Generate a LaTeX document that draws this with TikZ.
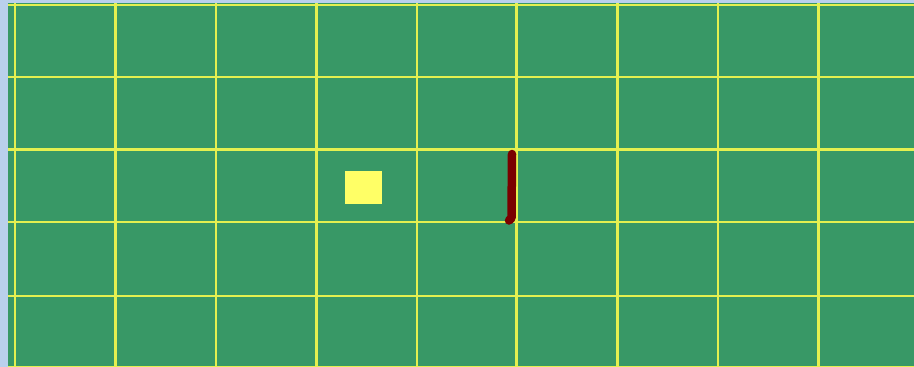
\documentclass[tikz,border=0pt]{standalone}
\definecolor{bgblue}{RGB}{186,208,236}
\definecolor{field}{RGB}{56,152,102}
\definecolor{gridyel}{RGB}{228,240,80}
\definecolor{sq}{RGB}{255,255,102}
\definecolor{bar}{RGB}{122,0,0}
\tikzset{gridline/.style={draw=gridyel,line width=2.8pt}}
\begin{document}
\begin{tikzpicture}[x=1pt,y=-1pt]
\useasboundingbox (0,0) rectangle (914,367);
\fill[bgblue] (0,0) rectangle (914,367);
\fill[field] (8,3) rectangle (914,367);
\foreach \xx in {15,115.5,216,316.5,417,516.5,617.5,718,818.5}
  \draw[gridline] (\xx,3) -- (\xx,367);
\foreach \yy in {5,77,149.5,222,296,367}
  \draw[gridline] (8,\yy) -- (914,\yy);
\fill[sq] (345,171) rectangle (381.5,203.5);
\coordinate (bt) at (512,154);
\coordinate (bb) at (511.5,218);
\coordinate (bl) at (509,220.5);
\draw[bar,line width=8.5pt,line cap=round,line join=round] (bt) -- (bb) -- (bl);
\end{tikzpicture}
\end{document}
